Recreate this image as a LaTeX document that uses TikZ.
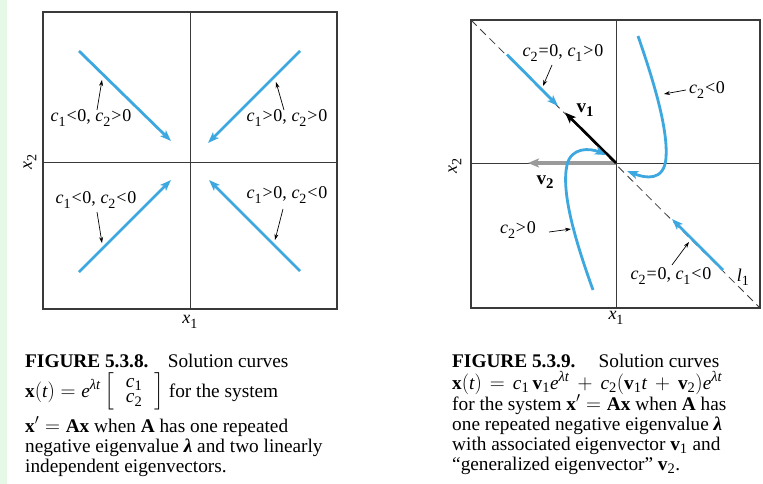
\documentclass[tikz,border=0pt]{standalone}
\usepackage{amsmath}
\usepackage{fontspec}
\setmainfont{Liberation Serif}
\usetikzlibrary{arrows.meta}
\definecolor{curveblue}{HTML}{3DA8E0}
\definecolor{stripgreen}{HTML}{E6F8E6}
\definecolor{framegray}{HTML}{3A3A3A}
\definecolor{vgray}{HTML}{9A9A9A}
\newcommand{\mysb}[1]{\raisebox{-0.24em}{\scalebox{0.78}{#1}}}
\newcommand{\myc}[1]{\textit{c}\mysb{#1}}
\newcommand{\myrel}[1]{\kern0.8pt#1\kern0.8pt}
\newcommand{\myx}[1]{\textit{x}\mysb{#1}}
\newcommand{\tsb}[1]{_{\mbox{\fontsize{14.5}{15}\selectfont #1}}}
\newcommand{\tsp}{^{\mbox{\fontsize{14.5}{15}\selectfont\itshape λt}}}
\begin{document}
\begin{tikzpicture}[x=1pt,y=-1pt,
  frame/.style={draw=framegray,line width=1.1pt},
  axisline/.style={draw=framegray,line width=0.9pt},
  sol/.style={draw=curveblue,line width=2.8pt,-{Stealth[length=11pt,width=8pt,inset=2.5pt]}},
  ptr/.style={draw=black,line width=0.7pt,-{Stealth[length=6pt,width=4pt]}},
  lab/.style={inner sep=0pt,font=\fontsize{18}{20}\selectfont},
  captext/.style={inner sep=0pt,anchor=base west,font=\fontsize{19.3}{22}\selectfont},
]
\fill[white] (0,0) rectangle (763,484);
\useasboundingbox (0,0) rectangle (763,484);
\fill[stripgreen] (0,0) rectangle (7,484);

% ---------------- left panel ----------------
\draw[frame] (43,12) rectangle (337,309);
\draw[axisline] (190,12) -- (190,309);
\draw[axisline] (43,162) -- (337,162);
\node[lab,rotate=90] (lx2) at (30,162) {\myx2};
\node[lab] (lx1) at (190,322) {\myx1};

\coordinate (a1s) at (79,51);   \coordinate (a1e) at (171,141);
\coordinate (a2s) at (300,51);  \coordinate (a2e) at (208,143);
\coordinate (a3s) at (79,272);  \coordinate (a3e) at (171,180);
\coordinate (a4s) at (300,271); \coordinate (a4e) at (209,180);
\draw[sol] (a1s) -- (a1e);
\draw[sol] (a2s) -- (a2e);
\draw[sol] (a3s) -- (a3e);
\draw[sol] (a4s) -- (a4e);

\node[lab] (la) at (91,118) {\myc1\myrel{<}0, \myc2\myrel{>}0};
\node[lab] (lb) at (287,118) {\myc1\myrel{>}0, \myc2\myrel{>}0};
\node[lab] (lc) at (96,200) {\myc1\myrel{<}0, \myc2\myrel{<}0};
\node[lab] (ld) at (287,195) {\myc1\myrel{>}0, \myc2\myrel{<}0};
\coordinate (las) at (97,110);  \coordinate (lae) at (102,80);
\coordinate (lbs) at (284,110); \coordinate (lbe) at (276,82);
\coordinate (lcs) at (97,212);  \coordinate (lce) at (102,243);
\coordinate (lds) at (283,209); \coordinate (lde) at (275,240);
\draw[ptr] (las) -- (lae);
\draw[ptr] (lbs) -- (lbe);
\draw[ptr] (lcs) -- (lce);
\draw[ptr] (lds) -- (lde);

% ---------------- right panel ----------------
\draw[frame] (471,20) rectangle (760,308);
\draw[axisline] (616,20) -- (616,308);
\draw[axisline] (471,163) -- (760,163);
\coordinate (dl1) at (471,20); \coordinate (dl2) at (760,308);
\draw[framegray,line width=0.8pt,dash pattern=on 8pt off 5pt] (dl1) -- (dl2);
\node[lab,rotate=90] (rx2) at (455,166) {\myx2};
\node[lab] (rx1) at (616,318) {\myx1};

\coordinate (O) at (616,163);
\coordinate (b1s) at (507,54.5); \coordinate (b1e) at (558,106);
\coordinate (b2s) at (723,270);  \coordinate (b2e) at (672,219);
\draw[sol] (b1s) -- (b1e);
\draw[sol] (b2s) -- (b2e);
\coordinate (v1e) at (565,112.5);
\coordinate (v2e) at (528,163);
\draw[vgray,line width=3.6pt,-{Stealth[length=11pt,width=9pt,inset=2.5pt]}] (O) -- (v2e);
\draw[black,line width=2.6pt,-{Stealth[length=11pt,width=8.5pt,inset=2.5pt]}] (O) -- (v1e);
\node[lab,font=\fontsize{19}{20}\selectfont\bfseries] (v1) at (585,110) {v\mysb{1}};
\node[lab,font=\fontsize{19}{20}\selectfont\bfseries] (v2) at (545,182) {v\mysb{2}};

\coordinate (c1s) at (638,36); \coordinate (c1e) at (627,171);
\draw[sol] (c1s) .. controls (655,85) and (668,130) .. (666,158)
  .. controls (664,182) and (645,178) .. (c1e);
\coordinate (c2s) at (593,290); \coordinate (c2e) at (606,155);
\draw[sol] (c2s) .. controls (575,240) and (561,192) .. (567,165)
  .. controls (571,147) and (590,148) .. (c2e);

\node[lab] (le) at (563,53) {\myc2\myrel{=}0, \myc1\myrel{>}0};
\node[lab,anchor=west] (lf) at (689,90) {\myc2\myrel{<}0};
\node[lab] (lg) at (518,230) {\myc2\myrel{>}0};
\node[lab] (lh) at (671,276) {\myc2\myrel{=}0, \myc1\myrel{<}0};
\node[lab] (ll) at (743,277) {\textit{l}\mysb{1}};
\coordinate (les) at (552,65);  \coordinate (lee) at (543,86);
\coordinate (lfs) at (686,90);  \coordinate (lfe) at (664,94);
\coordinate (lgs) at (549,232); \coordinate (lge) at (571,229);
\coordinate (lhs) at (672,265); \coordinate (lhe) at (689,242);
\draw[ptr] (les) -- (lee);
\draw[ptr] (lfs) -- (lfe);
\draw[ptr] (lgs) -- (lge);
\draw[ptr] (lhs) -- (lhe);

% ---------------- captions ----------------
\node[captext] (t1) at (25,367) {\textbf{FIGURE 5.3.8.}\hspace{1.0em}Solution curves};
\node[captext] (t2) at (25,397) {$\textbf{x}(\textit{t}) = \textit{e}\tsp\,\smash{\left[\renewcommand{\arraystretch}{0.72}\begin{array}{@{\hspace{12pt}}c@{\hspace{12pt}}}\textit{c}\tsb{1}\\ \textit{c}\tsb{2}\end{array}\right]}$ for the system};
\node[captext] (t3) at (25,432) {$\textbf{x}' = \textbf{Ax}$ when \textbf{A} has one repeated};
\node[captext] (t4) at (25,452) {negative eigenvalue \textbf{\textit{λ}} and two linearly};
\node[captext] (t5) at (25,472) {independent eigenvectors.};

\node[captext] (r1) at (452,367) {\textbf{FIGURE 5.3.9.}\hspace{1.2em}Solution curves};
\node[captext] (r2) at (452,389) {\medmuskip=7mu\thickmuskip=7mu$\textbf{x}(\textit{t}) = \textit{c}\tsb{1}\,\textbf{v}\tsb{1}\textit{e}\tsp + \textit{c}\tsb{2}(\textbf{v}\tsb{1}\textit{t} + \textbf{v}\tsb{2})\textit{e}\tsp$};
\node[captext] (r3) at (452,410) {for the system $\textbf{x}' = \textbf{Ax}$ when \textbf{A} has};
\node[captext] (r4) at (452,430) {one repeated negative eigenvalue \textbf{\textit{λ}}};
\node[captext] (r5) at (452,450) {with associated eigenvector $\textbf{v}\tsb{1}$ and};
\node[captext] (r6) at (452,470) {``generalized eigenvector'' $\textbf{v}\tsb{2}$.};
\end{tikzpicture}
\end{document}
